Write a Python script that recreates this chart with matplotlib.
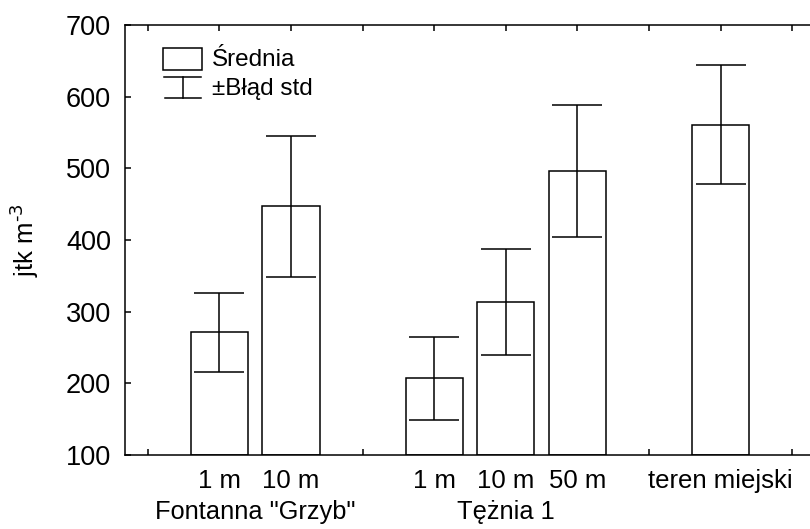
import matplotlib
matplotlib.use("Agg")
import matplotlib.pyplot as plt
from matplotlib.patches import Rectangle
from matplotlib.lines import Line2D
import matplotlib.transforms as mtransforms

plt.rcParams['font.family'] = ['Liberation Sans', 'DejaVu Sans']
plt.rcParams['mathtext.default'] = 'regular'

# Data
positions = [1, 2, 4, 5, 6, 8]
tick_labels = ["1 m", "10 m", "1 m", "10 m", "50 m", "teren miejski"]
means = [271, 447, 207, 313, 496, 561]
std_err = [55, 98, 58, 74, 92, 83]
group_names = ['Fontanna "Grzyb"', 'Tężnia 1']
group_centers = [1.5, 5.0]
all_ticks = list(range(10))
y_ticks = [100, 200, 300, 400, 500, 600, 700]

fig = plt.figure(figsize=(8.10, 5.29), dpi=100)
ax = fig.add_axes([125/810, (529-455)/529, 690/810, 430/529])

ax.bar(positions, [m - 100 for m in means], bottom=100, width=0.8,
       facecolor='white', edgecolor='black', linewidth=1.1, zorder=2)
ax.errorbar(positions, means, yerr=std_err, fmt='none', ecolor='black',
            elinewidth=1.1, capsize=18, capthick=1.1, zorder=3)

ax.set_xlim(-0.32, 9.32)
ax.set_ylim(100, 700)
ax.set_yticks(y_ticks)
ax.set_yticklabels([str(v) for v in y_ticks], fontsize=19.5)

ax.set_xticks(all_ticks)
lbl = [''] * len(all_ticks)
for p, t in zip(positions, tick_labels):
    lbl[p] = t
ax.set_xticklabels(lbl, fontsize=18.5)

ax.tick_params(axis='x', direction='in', length=4, width=1.1, top=True, pad=10)
ax.tick_params(axis='y', direction='in', length=4, width=1.1, pad=10)

for s in ax.spines.values():
    s.set_linewidth(1.1)

ax.set_ylabel(r'jtk m$^{\text{-3}}$', fontsize=18.5, labelpad=18)

trans = mtransforms.blended_transform_factory(ax.transData, ax.transAxes)
for name, c in zip(group_names, group_centers):
    ax.text(c, -0.132, name, transform=trans, ha='center', va='center', fontsize=18.3)

# legend drawn manually
ax.add_patch(Rectangle((0.0551, 0.8953), 0.0565, 0.0512, transform=ax.transAxes,
                       facecolor='white', edgecolor='black', linewidth=1.1, zorder=4))
ax.add_line(Line2D([0.0841, 0.0841], [0.830, 0.879], transform=ax.transAxes,
                   color='black', linewidth=1.1))
ax.add_line(Line2D([0.0565, 0.110], [0.879, 0.879], transform=ax.transAxes,
                   color='black', linewidth=1.1))
ax.add_line(Line2D([0.0580, 0.110], [0.830, 0.830], transform=ax.transAxes,
                   color='black', linewidth=1.1))
ax.text(0.126, 0.919, 'Średnia', transform=ax.transAxes, ha='left', va='center', fontsize=17.5)
ax.text(0.126, 0.851, '±Błąd std', transform=ax.transAxes, ha='left', va='center', fontsize=17.5)

fig.savefig('out.png', dpi=100)
